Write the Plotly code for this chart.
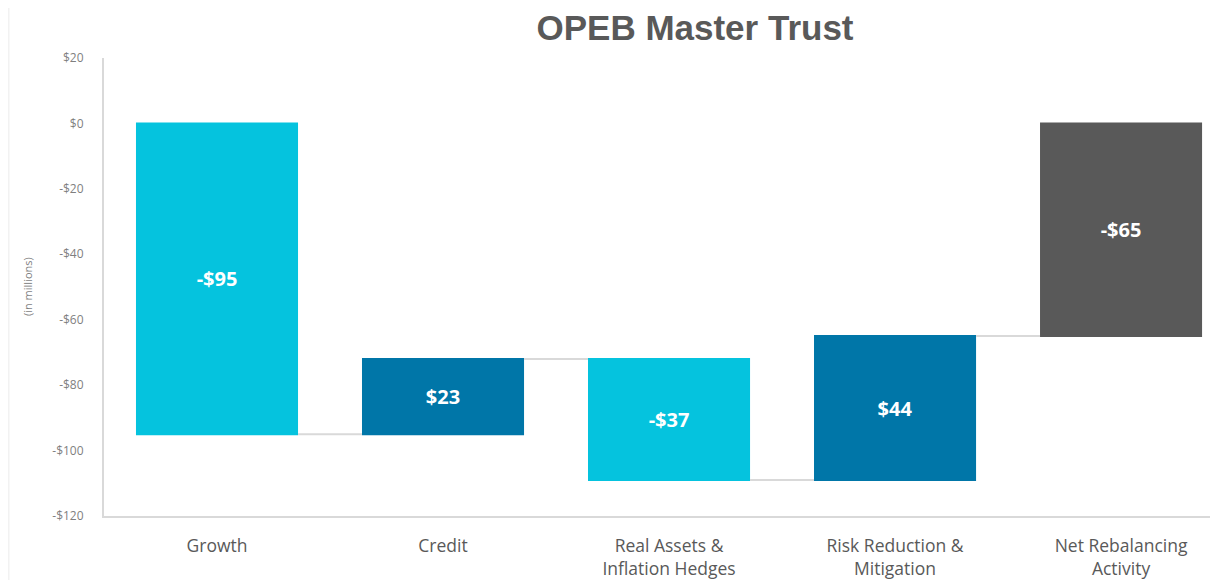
import plotly.graph_objects as go

categories = ["Growth", "Credit", "Real Assets &<br>Inflation Hedges", "Risk Reduction &<br>Mitigation", "Net Rebalancing<br>Activity"]
values = [-95, 23, -37, 44, -65]
measures = ["relative", "relative", "relative", "relative", "total"]
labels = ["-$95", "$23", "-$37", "$44", "-$65"]
tick_vals = [20, 0, -20, -40, -60, -80, -100, -120]
tick_text = ["$20", "$0", "-$20", "-$40", "-$60", "-$80", "-$100", "-$120"]

# page is offset by the 8px body margin; compensate in the margins
L, R, T, B = 96, 8, 50, 72
PW = 1218 - L - R
PH = 580 - T - B

fig = go.Figure(go.Waterfall(
    x=list(range(len(categories))),
    y=values,
    measure=measures,
    text=labels,
    textposition="inside",
    insidetextanchor="middle",
    textfont=dict(family="Open Sans", size=20, color="white", weight="bold"),
    decreasing=dict(marker=dict(color="#05C3DE")),
    increasing=dict(marker=dict(color="#0076A8")),
    totals=dict(marker=dict(color="#595959")),
    connector=dict(mode="between", line=dict(color="#d9d9d9", width=2)),
    base=0,
    hoverinfo="skip",
))

fig.update_layout(
    width=1218, height=580,
    margin=dict(l=L, r=R, t=T, b=B),
    paper_bgcolor="white", plot_bgcolor="white",
    waterfallgap=0.283,
    showlegend=False,
    font=dict(family="Open Sans", color="#595959"),
    title=dict(text="<b>OPEB Master Trust</b>", x=687 / 1218, xanchor="center", xref="container",
               y=1 - 20 / 580, yanchor="middle", yref="container",
               font=dict(family="Liberation Sans", size=35, color="#595959")),
    xaxis=dict(
        range=[-0.5, 4.429],
        tickvals=list(range(len(categories))),
        ticktext=categories,
        tickfont=dict(size=17.5, color="#595959"),
        showline=True, linecolor="#d9d9d9", linewidth=2,
        showgrid=False, zeroline=False, ticks="",
        ticklabelstandoff=13,
        automargin=False,
    ),
    yaxis=dict(
        range=[-120, 20],
        tickvals=tick_vals,
        ticktext=tick_text,
        tickfont=dict(size=12, color="#7f7f7f"),
        showline=True, linecolor="#d9d9d9", linewidth=2,
        showgrid=False, zeroline=False, ticks="",
        ticklabelstandoff=16,
        automargin=False,
    ),
    shapes=[dict(type="rect", xref="paper", yref="paper",
                 x0=-L / PW, x1=(-L + 1.5) / PW,
                 y0=-B / PH, y1=(580 - B) / PH,
                 fillcolor="#f2f2f2", line=dict(width=0), layer="below")],
    annotations=[dict(text="(in millions)", textangle=-90, xref="paper", yref="paper",
                      x=(27 - 104) / PW, y=(516 - 287) / PH, showarrow=False,
                      xanchor="center", yanchor="middle",
                      font=dict(size=11, color="#7f7f7f"))],
)

fig.write_html("out.html")
